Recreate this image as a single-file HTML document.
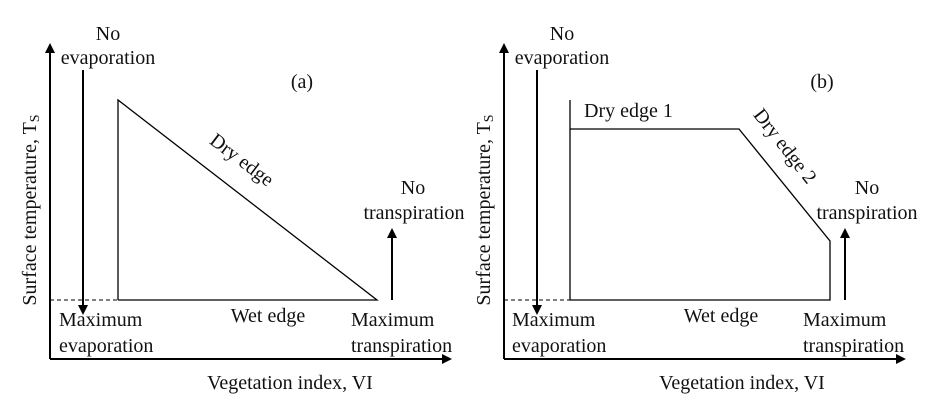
<!DOCTYPE html>
<html><head><meta charset="utf-8"><style>
html,body{margin:0;padding:0;background:#fff;}
svg text{font-family:"Liberation Serif",serif;font-size:20px;fill:#111;}
</style></head><body>
<svg width="942" height="411" viewBox="0 0 942 411" xmlns="http://www.w3.org/2000/svg">
<defs>
<marker id="ah" markerWidth="10" markerHeight="10" refX="8" refY="5" orient="auto" markerUnits="userSpaceOnUse">
<path d="M0,0 L10,5 L0,10 z" fill="#000"/>
</marker>
</defs>
<g stroke="#000" fill="none">
<line x1="50" y1="359" x2="50" y2="45" stroke-width="2" marker-end="url(#ah)"/>
<line x1="50" y1="359" x2="450" y2="359" stroke-width="2" marker-end="url(#ah)"/>
<line x1="83" y1="70" x2="83" y2="313" stroke-width="2" marker-end="url(#ah)"/>
<line x1="50" y1="300" x2="118" y2="300" stroke-width="1" stroke-dasharray="4,3"/>
<polyline points="118,300 118,100 377,300 118,300" stroke-width="1.3"/>
<line x1="392" y1="300" x2="392" y2="230" stroke-width="2" marker-end="url(#ah)"/>
</g>
<g>
<text x="108" y="40" text-anchor="middle">No</text>
<text x="108" y="64" text-anchor="middle">evaporation</text>
<text x="302" y="88" text-anchor="middle">(a)</text>
<text transform="translate(238,165) rotate(37)" text-anchor="middle">Dry edge</text>
<text x="413" y="194" text-anchor="middle">No</text>
<text x="414" y="219" text-anchor="middle">transpiration</text>
<text x="59" y="326">Maximum</text>
<text x="59" y="352">evaporation</text>
<text x="268" y="322" text-anchor="middle">Wet edge</text>
<text x="351" y="326">Maximum</text>
<text x="351" y="352">transpiration</text>
<text x="290" y="389" text-anchor="middle">Vegetation index, VI</text>
<text transform="translate(36,210) rotate(-90)" text-anchor="middle">Surface temperature, T<tspan font-size="14" dy="3">S</tspan></text>
</g>
<g stroke="#000" fill="none">
<line x1="504" y1="359" x2="504" y2="45" stroke-width="2" marker-end="url(#ah)"/>
<line x1="504" y1="359" x2="904" y2="359" stroke-width="2" marker-end="url(#ah)"/>
<line x1="537" y1="70" x2="537" y2="313" stroke-width="2" marker-end="url(#ah)"/>
<line x1="504" y1="300" x2="570" y2="300" stroke-width="1" stroke-dasharray="4,3"/>
<polyline points="570,100 570,300 830,300 830,241 739,129 570,129" stroke-width="1.3"/>
<line x1="845" y1="300" x2="845" y2="230" stroke-width="2" marker-end="url(#ah)"/>
</g>
<g>
<text x="562" y="40" text-anchor="middle">No</text>
<text x="562" y="64" text-anchor="middle">evaporation</text>
<text x="822" y="88" text-anchor="middle">(b)</text>
<text x="584" y="117">Dry edge 1</text>
<text transform="translate(780,150) rotate(52)" text-anchor="middle">Dry edge 2</text>
<text x="867" y="194" text-anchor="middle">No</text>
<text x="867" y="219" text-anchor="middle">transpiration</text>
<text x="512" y="326">Maximum</text>
<text x="512" y="352">evaporation</text>
<text x="721" y="322" text-anchor="middle">Wet edge</text>
<text x="803" y="326">Maximum</text>
<text x="803" y="352">transpiration</text>
<text x="742" y="389" text-anchor="middle">Vegetation index, VI</text>
<text transform="translate(490,210) rotate(-90)" text-anchor="middle">Surface temperature, T<tspan font-size="14" dy="3">S</tspan></text>
</g>
</svg>
</body></html>
